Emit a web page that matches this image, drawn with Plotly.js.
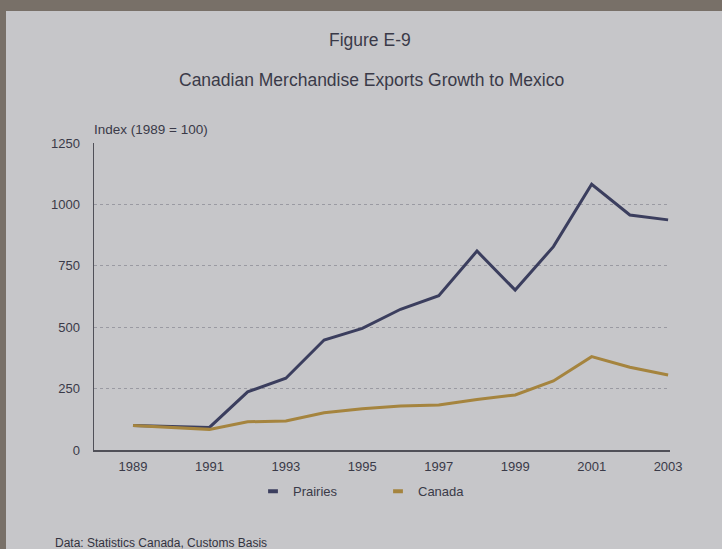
<!DOCTYPE html>
<html>
<head>
<meta charset="utf-8">
<script src="https://cdn.plot.ly/plotly-3.0.1.min.js"></script>
<style>
html,body{margin:0;padding:0;background:#c6c6c9;}
#chart{width:722px;height:549px;}
</style>
</head>
<body>
<div id="chart"></div>
<script>
const years = [1989,1990,1991,1992,1993,1994,1995,1996,1997,1998,1999,2000,2001,2002,2003];
const prairies = [100,95,92,237,292,448,495,573,628,810,651,828,1082,957,937];
const canada = [100,92,84,115,118,152,168,179,183,206,224,281,380,337,305];
const tickYears = [1989,1991,1993,1995,1997,1999,2001,2003];
const yTicks = [0,250,500,750,1000,1250];

const txt = '#3a3a48';
const font = 'Liberation Sans, Arial, sans-serif';

const traces = [
  {x: years, y: prairies, mode: 'lines', name: 'Prairies', showlegend: false,
   line: {color: '#3b3e5e', width: 3}},
  {x: years, y: canada, mode: 'lines', name: 'Canada', showlegend: false,
   line: {color: '#a5843e', width: 3}},
  {x: [null], y: [null], mode: 'markers', name: 'Prairies',
   marker: {symbol: 'line-ew-open', size: 7, color: '#3b3e5e', line: {color: '#3b3e5e', width: 4}}},
  {x: [null], y: [null], mode: 'markers', name: 'Canada',
   marker: {symbol: 'line-ew-open', size: 7, color: '#a5843e', line: {color: '#a5843e', width: 4}}}
];

const layout = {
  width: 722, height: 549,
  paper_bgcolor: '#c6c6c9', plot_bgcolor: '#c6c6c9',
  font: {family: font, color: txt, size: 12},
  margin: {l: 94, r: 52, t: 143, b: 99},
  showlegend: true,
  legend: {orientation: 'h', x: (253-94)/576, xanchor: 'left', y: -0.0855, yanchor: 'top',
           bgcolor: 'rgba(0,0,0,0)', font: {size: 13, color: txt}, itemwidth: 30,
           entrywidth: 80, entrywidthmode: 'pixels'},
  xaxis: {range: [1987.98, 2003.05], tickvals: tickYears, ticktext: tickYears.map(String),
          showgrid: false, zeroline: false, showline: true, linecolor: '#505058', linewidth: 1.5,
          ticks: '', ticklen: 0, ticklabelstandoff: 4, tickfont: {size: 13, color: txt}},
  yaxis: {range: [0, 1250], tickvals: yTicks, showgrid: true, gridcolor: '#9a9aa2',
          griddash: 'dot', gridwidth: 1, zeroline: false, showline: true,
          linecolor: '#505058', linewidth: 1.5, ticks: '', ticklen: 0, ticklabelstandoff: 10,
          tickfont: {size: 13, color: txt}},
  annotations: [
    {text: 'Figure E-9', xref: 'paper', yref: 'paper', x: (370-94)/576, y: (450-40)/307, xanchor: 'center', yanchor: 'middle', showarrow: false, font: {size: 17.5, color: txt}},
    {text: 'Canadian Merchandise Exports Growth to Mexico', xref: 'paper', yref: 'paper', x: (371-94)/576, y: (450-80)/307, xanchor: 'center', yanchor: 'middle', showarrow: false, font: {size: 17.5, color: txt}},
    {text: 'Index (1989 = 100)', xref: 'paper', yref: 'paper', x: -0.003, y: (450-129)/307, xanchor: 'left', yanchor: 'middle', showarrow: false, font: {size: 13.5, color: txt}},
    {text: 'Data: Statistics Canada, Customs Basis', xref: 'paper', yref: 'paper', x: (53-94)/576, y: (450-543)/307, xanchor: 'left', yanchor: 'middle', showarrow: false, font: {size: 12, color: '#33333f'}}
  ],
  shapes: [
    {type: 'rect', xref: 'paper', yref: 'paper', x0: -94/576, x1: 628/576, y0: (450-11)/307, y1: 450/307, fillcolor: '#787068', line: {width: 0}, layer: 'above'},
    {type: 'rect', xref: 'paper', yref: 'paper', x0: -94/576, x1: -88/576, y0: -99/307, y1: 450/307, fillcolor: '#787068', line: {width: 0}, layer: 'above'}
  ]
};

Plotly.newPlot('chart', traces, layout, {displayModeBar: false, staticPlot: true});
</script>
</body>
</html>
